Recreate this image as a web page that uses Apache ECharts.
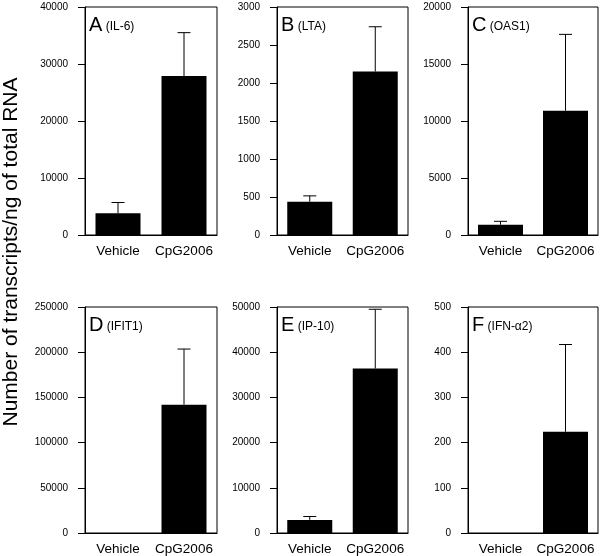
<!DOCTYPE html>
<html><head><meta charset="utf-8">
<script src="https://cdn.jsdelivr.net/npm/echarts@6/dist/echarts.min.js"></script>
<style>html,body{margin:0;padding:0;background:#fff}#c{width:600px;height:556px}</style>
</head><body><div id="c"></div>
<script>
const categories = ['Vehicle', 'CpG2006'];
const panelLetters = ['A', 'B', 'C', 'D', 'E', 'F'];
const panelGenes = ['(IL-6)', '(LTA)', '(OAS1)', '(IFIT1)', '(IP-10)', '(IFN-\u03b12)'];
const yMax = [40000, 3000, 20000, 250000, 50000, 500];
const yStep = [10000, 500, 5000, 50000, 10000, 100];
const meanA = [3800, 27900];   const errA = [5700, 35500];
const meanB = [438, 2150];     const errB = [515, 2740];
const meanC = [900, 10900];    const errC = [1200, 17600];
const meanD = [0, 142000];     const errD = [0, 203500];
const meanE = [2900, 36400];   const errE = [3650, 49500];
const meanF = [0, 224];        const errF = [0, 417];
const means = [meanA, meanB, meanC, meanD, meanE, meanF];
const errTops = [errA, errB, errC, errD, errE, errF];

const lefts = [85, 277, 468];
const widths = [132, 131, 130];
const tops = [7, 307];
const H = 228;

const chart = echarts.init(document.getElementById('c'));
const grids = [], xAxes = [], yAxes = [], series = [], graphics = [];
const font = 'Liberation Sans, Arial, Helvetica, sans-serif';
for (let i = 0; i < 6; i++) {
  const col = i % 3, row = Math.floor(i / 3);
  grids.push({left: lefts[col], top: tops[row], width: widths[col], height: H,
    show: true, borderColor: '#000', borderWidth: 1, backgroundColor: 'transparent', containLabel: false});
  xAxes.push({type: 'category', gridIndex: i, data: categories,
    axisLine: {lineStyle: {color: '#000', width: 1}}, axisTick: {show: false},
    axisLabel: {color: '#000', fontSize: 13.5, fontFamily: font, margin: 9, interval: 0, hideOverlap: false}});
  yAxes.push({type: 'value', gridIndex: i, min: 0, max: yMax[i], interval: yStep[i],
    axisLine: {show: true, lineStyle: {color: '#000', width: 1}},
    axisTick: {show: true, length: 7, lineStyle: {color: '#000'}},
    splitLine: {show: false},
    axisLabel: {color: '#000', fontSize: 10, fontFamily: font, margin: 17, formatter: v => String(v)}});
  series.push({type: 'bar', xAxisIndex: i, yAxisIndex: i, data: means[i], barWidth: 45,
    itemStyle: {color: '#000'}, silent: true, z: 2});
  const eb = categories.map((c, k) => [k, means[i][k], errTops[i][k]]);
  series.push({type: 'custom', xAxisIndex: i, yAxisIndex: i, data: eb, z: 3, silent: true,
    renderItem: function (params, api) {
      const lo = api.value(1), hi = api.value(2);
      if (!(hi > lo)) return null;
      const p0 = api.coord([api.value(0), lo]);
      const p1 = api.coord([api.value(0), hi]);
      const hw = 6.5;
      return {type: 'group', children: [
        {type: 'line', shape: {x1: p0[0], y1: p0[1], x2: p1[0], y2: p1[1]}, style: {stroke: '#000', lineWidth: 1}},
        {type: 'line', shape: {x1: p1[0] - hw, y1: p1[1], x2: p1[0] + hw, y2: p1[1]}, style: {stroke: '#000', lineWidth: 1}}
      ]};
    }});
  graphics.push({type: 'text', left: lefts[col] + 4, top: tops[row] + 8,
    style: {rich: {big: {fontSize: 20, fontFamily: font, fill: '#000'}, small: {fontSize: 12, fontFamily: font, fill: '#000', padding: [3, 0, 0, 0]}},
      text: '{big|' + panelLetters[i] + '} {small|' + panelGenes[i] + '}', fill: '#000'}});
}
graphics.push({type: 'text', x: 11, y: 252, rotation: Math.PI / 2,
  style: {text: 'Number of transcripts/ng of total RNA', fontSize: 21, fontFamily: font, fill: '#000',
    textAlign: 'center', textVerticalAlign: 'middle'}});

chart.setOption({animation: false, backgroundColor: '#fff', grid: grids, xAxis: xAxes, yAxis: yAxes, series: series, graphic: graphics});
</script></body></html>
